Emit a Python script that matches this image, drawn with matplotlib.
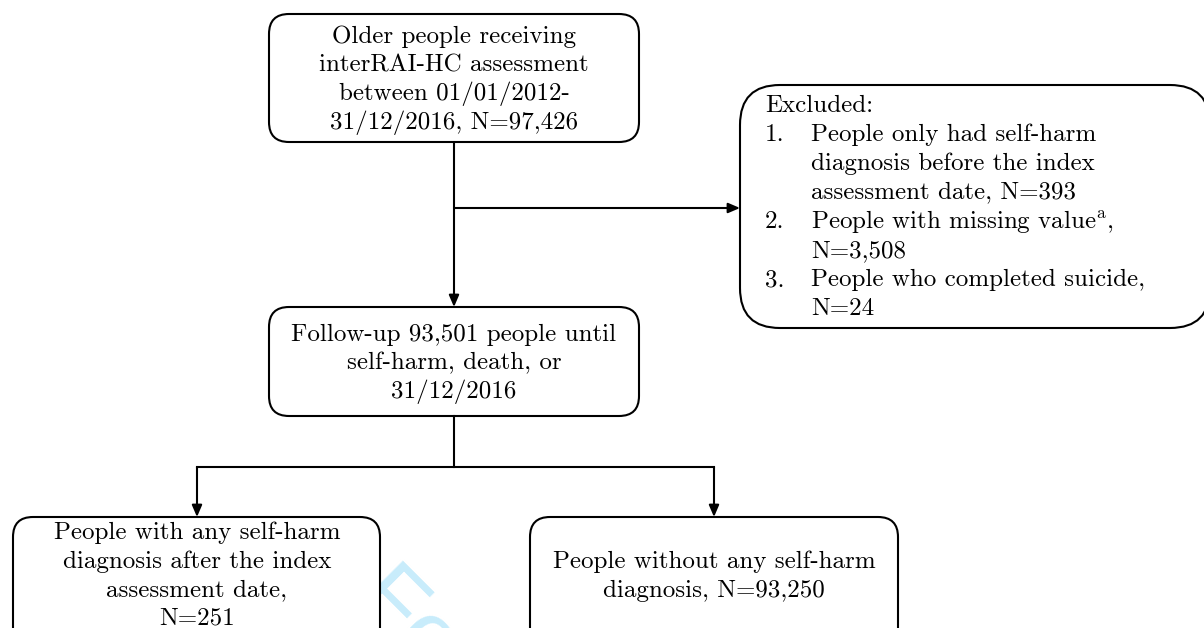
import matplotlib.pyplot as plt
from matplotlib.patches import FancyBboxPatch

plt.rcParams['mathtext.fontset'] = 'cm'
plt.rcParams['axes.unicode_minus'] = False

# counts shown in the flow chart
n_total = '97,426'
n_followup = '93,501'
n_excl = ['393', '3,508', '24']
n_case = '251'
n_noncase = '93,250'

top_text = ['Older people receiving', 'interRAI-HC assessment',
            'between 01/01/2012-', '31/12/2016, N=' + n_total]
mid_text = ['Follow-up ' + n_followup + ' people until',
            'self-harm, death, or', '31/12/2016']
left_text = ['People with any self-harm', 'diagnosis after the index',
             'assessment date,', 'N=' + n_case]
right_text = ['People without any self-harm', 'diagnosis, N=' + n_noncase]
excl_nums = ['1.', '2.', '3.']
excl_items = [['People only had self-harm', 'diagnosis before the index',
               'assessment date, N=' + n_excl[0]],
              [r'People with missing value$^{\mathrm{a}}$,', 'N=' + n_excl[1]],
              ['People who completed suicide,', 'N=' + n_excl[2]]]

FONT = 'cmr10'
FS = 18
LH = 28.5

fig = plt.figure(figsize=(12.04, 6.28), dpi=100)
ax = fig.add_axes([0, 0, 1, 1])
ax.set_xlim(0, 1204)
ax.set_ylim(628, 0)
ax.axis('off')

# faint watermark, mostly hidden behind the boxes
ax.text(352, 600, 'For Peer Review', rotation=-45, rotation_mode='anchor',
        ha='left', va='baseline', fontsize=66, color='#c8ecfb',
        family='Liberation Sans', zorder=0)


def box(x0, y0, x1, y1, r=20):
    p = FancyBboxPatch((x0, y0), x1 - x0, y1 - y0,
                       boxstyle='round,pad=0,rounding_size=%d' % r,
                       fc='white', ec='black', lw=1.5, zorder=2)
    ax.add_patch(p)


def centered(lines, cx, y0):
    for i, s in enumerate(lines):
        ax.text(cx, y0 + i * LH, s, ha='center', va='center',
                fontsize=FS, family=FONT, zorder=3)


def arrow(x0, y0, x1, y1):
    ax.annotate('', xy=(x1, y1), xytext=(x0, y0),
                arrowprops=dict(arrowstyle='-|>,head_length=0.7,head_width=0.3',
                                color='black', lw=1.5, shrinkA=0, shrinkB=0),
                zorder=3)


box(269, 14, 639, 142)
centered(top_text, 454, 37)

box(269, 307, 639, 416)
centered(mid_text, 454, 335)

box(13, 517, 380, 660)
centered(left_text, 197, 533)

box(530, 517, 898, 660)
centered(right_text, 714, 562)

box(740, 85, 1210, 328, r=40)
ax.text(765, 106, 'Excluded:', ha='left', va='center', fontsize=FS, family=FONT, zorder=3)
y = 106 + LH
for num, item in zip(excl_nums, excl_items):
    ax.text(765, y, num, ha='left', va='center', fontsize=FS, family=FONT, zorder=3)
    for s in item:
        ax.text(811, y, s, ha='left', va='center', fontsize=FS, family=FONT, zorder=3)
        y += LH + 0.6

# connectors
arrow(454, 142, 454, 307)
arrow(454, 208, 740, 208)
ax.plot([454, 454], [416, 467], color='black', lw=1.5, zorder=3)
ax.plot([197, 714], [467, 467], color='black', lw=1.5, zorder=3)
arrow(197, 467, 197, 517)
arrow(714, 467, 714, 517)

fig.savefig('out.png', dpi=100, facecolor='white')
